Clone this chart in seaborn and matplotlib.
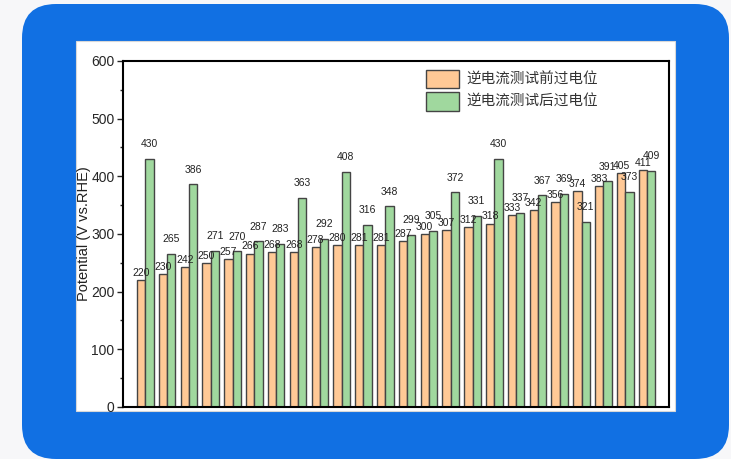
import pandas as pd
import matplotlib.pyplot as plt
import seaborn as sns
from matplotlib.patches import FancyBboxPatch
from matplotlib.ticker import MultipleLocator

# overpotential before / after reverse-current test (mV)
samples = [f"S{i + 1}" for i in range(24)]
before = [220, 230, 242, 250, 257, 266, 268, 268, 278, 280, 281, 281,
          287, 300, 307, 312, 318, 333, 342, 356, 374, 383, 405, 411]
after = [430, 265, 386, 271, 270, 287, 283, 363, 292, 408, 316, 348,
         299, 305, 372, 331, 430, 337, 367, 369, 321, 391, 373, 409]
series = ["逆电流测试前过电位", "逆电流测试后过电位"]

df = pd.DataFrame({
    "sample": samples * 2,
    "value": before + after,
    "series": [series[0]] * len(before) + [series[1]] * len(after),
})

sns.set_style("white")
plt.rcParams["font.family"] = ["Liberation Sans Narrow", "Liberation Sans", "DejaVu Sans"]

fig = plt.figure(figsize=(7.31, 4.59), dpi=100)
fig.patch.set_facecolor("#f7f7f9")

# blue card + white panel behind the chart
fig.patches.append(FancyBboxPatch((0.22, 0.0), 7.07, 4.55,
                                  boxstyle="round,pad=0,rounding_size=0.34",
                                  transform=fig.dpi_scale_trans,
                                  facecolor="#1170e3", edgecolor="none", zorder=-10))
fig.patches.append(FancyBboxPatch((0.76, 0.48), 5.99, 3.70,
                                  boxstyle="square,pad=0",
                                  transform=fig.dpi_scale_trans,
                                  facecolor="white", edgecolor="#d8d8d8",
                                  linewidth=0.8, zorder=-9))

ax = fig.add_axes([0.168, 0.1133, 0.747, 0.754])
ax.set_zorder(5)
ax.set_facecolor("white")

palette = {series[0]: "#ffc996", series[1]: "#a0d89e"}
sns.barplot(data=df, x="sample", y="value", hue="series", palette=palette,
            width=0.76, edgecolor="#444444", linewidth=1.0, saturation=1,
            ax=ax, legend=True)

for cont, pad in zip(ax.containers, [1.5, 7.0]):
    ax.bar_label(cont, fmt="%d", padding=pad, fontsize=7.5, color="#222222")

ax.set_xlim(-1.03, 24.0)
ax.set_ylim(0, 600)
ax.yaxis.set_major_locator(MultipleLocator(100))
ax.yaxis.set_minor_locator(MultipleLocator(50))
ax.tick_params(axis="y", which="major", direction="out", length=4, width=1,
               left=True, labelsize=10, pad=2)
ax.tick_params(axis="y", which="minor", direction="out", length=2, width=1, left=True)
ax.tick_params(axis="x", bottom=False, labelbottom=False)
ax.set_xlabel("")
ax.set_ylabel("Potential (V vs.RHE)", fontsize=10.5, labelpad=0, color="#222222")

for s in ax.spines.values():
    s.set_visible(True)
    s.set_color("black")
    s.set_linewidth(1.5)

leg = ax.legend(loc="upper left", bbox_to_anchor=(0.555, 0.975), frameon=False,
                prop={"family": ["Noto Sans CJK SC", "DejaVu Sans"], "size": 10.5},
                handlelength=2.3, handleheight=1.6, handletextpad=0.5,
                labelspacing=0.25, borderpad=0, borderaxespad=0)
for h in leg.legend_handles:
    h.set_edgecolor("#444444")
    h.set_linewidth(1.0)
for t in leg.get_texts():
    t.set_color("#333333")

plt.savefig("out.png", dpi=100, facecolor=fig.get_facecolor())
